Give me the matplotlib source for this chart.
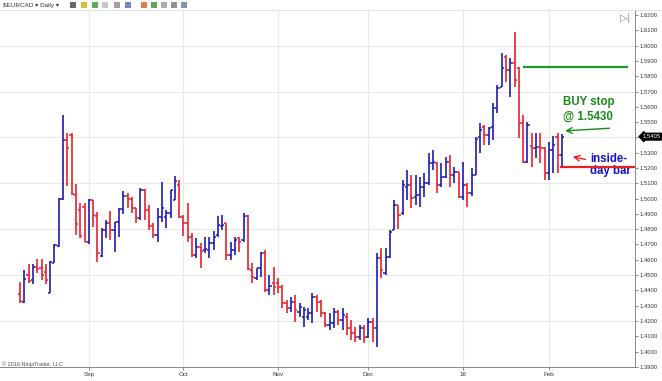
import numpy as np
import matplotlib
matplotlib.use("Agg")
import matplotlib.pyplot as plt
import matplotlib.transforms as mtransforms
from matplotlib.patches import Rectangle

# EURCAD daily bars, Aug 10 2015 .. Feb 4 2016 (one entry per trading day)
opens = [1.4375, 1.4322, 1.4500, 1.4468, 1.4555, 1.4544, 1.4520, 1.4385, 1.4576, 1.4690,
         1.4995, 1.5380, 1.5415, 1.5023, 1.4925, 1.4947, 1.4718, 1.4990, 1.4886, 1.4624,
         1.4794, 1.4842, 1.4794, 1.4849, 1.4929, 1.5017, 1.4999, 1.4936, 1.4871, 1.5056,
         1.4925, 1.4820, 1.4762, 1.4881, 1.4880, 1.4903, 1.4990, 1.5089, 1.4881, 1.4842,
         1.4751, 1.4631, 1.4682, 1.4664, 1.4664, 1.4708, 1.4762, 1.4821, 1.4838, 1.4631,
         1.4664, 1.4740, 1.4729, 1.4886, 1.4533, 1.4479, 1.4544, 1.4647, 1.4403, 1.4446,
         1.4446, 1.4424, 1.4315, 1.4283, 1.4326, 1.4260, 1.4228, 1.4225, 1.4250, 1.4359,
         1.4326, 1.4250, 1.4174, 1.4185, 1.4261, 1.4207, 1.4228, 1.4152, 1.4124, 1.4098,
         1.4152, 1.4098, 1.4196, 1.4152, 1.4609, 1.4511, 1.4616, 1.4794, 1.4958, 1.4903,
         1.5075, 1.5089, 1.5012, 1.5023, 1.5078, 1.5099, 1.5230, 1.5230, 1.5089, 1.5143,
         1.5241, 1.5154, 1.5176, 1.5012, 1.5089, 1.5034, 1.5154, 1.5404, 1.5470, 1.5415,
         1.5470, 1.5590, 1.5731, 1.5927, 1.5840, 1.5884, 1.5851, 1.5492, 1.5241, 1.5345,
         1.5330, 1.5339, 1.5328, 1.5165, 1.5317, 1.5404, 1.5285]
highs = [1.4455, 1.4533, 1.4572, 1.4570, 1.4607, 1.4607, 1.4570, 1.4592, 1.4703, 1.5001,
         1.5546, 1.5426, 1.5426, 1.5093, 1.4973, 1.4973, 1.4997, 1.4990, 1.4914, 1.4805,
         1.4860, 1.4918, 1.4849, 1.4940, 1.5051, 1.5034, 1.5012, 1.4940, 1.5067, 1.5062,
         1.4958, 1.4838, 1.4936, 1.5110, 1.4925, 1.5056, 1.5147, 1.5121, 1.4892, 1.4973,
         1.4777, 1.4740, 1.4708, 1.4751, 1.4751, 1.4788, 1.4886, 1.4893, 1.4838, 1.4719,
         1.4751, 1.4751, 1.4904, 1.4893, 1.4577, 1.4544, 1.4653, 1.4664, 1.4501, 1.4555,
         1.4479, 1.4435, 1.4337, 1.4359, 1.4370, 1.4315, 1.4294, 1.4283, 1.4381, 1.4370,
         1.4337, 1.4261, 1.4250, 1.4283, 1.4272, 1.4283, 1.4250, 1.4207, 1.4163, 1.4174,
         1.4174, 1.4217, 1.4217, 1.4645, 1.4675, 1.4675, 1.4794, 1.4990, 1.4958, 1.5121,
         1.5187, 1.5154, 1.5154, 1.5143, 1.5165, 1.5296, 1.5317, 1.5241, 1.5230, 1.5274,
         1.5285, 1.5208, 1.5176, 1.5241, 1.5099, 1.5200, 1.5400, 1.5492, 1.5481, 1.5470,
         1.5622, 1.5742, 1.5949, 1.5938, 1.5916, 1.6091, 1.5862, 1.5546, 1.5503, 1.5426,
         1.5426, 1.5426, 1.5340, 1.5370, 1.5410, 1.5426, 1.5420]
lows = [1.4315, 1.4315, 1.4446, 1.4441, 1.4511, 1.4468, 1.4440, 1.4380, 1.4576, 1.4685,
        1.4990, 1.5082, 1.5023, 1.4762, 1.4740, 1.4714, 1.4703, 1.4816, 1.4587, 1.4620,
        1.4740, 1.4729, 1.4653, 1.4751, 1.4899, 1.4936, 1.4908, 1.4838, 1.4860, 1.4860,
        1.4794, 1.4744, 1.4718, 1.4849, 1.4805, 1.4871, 1.4990, 1.4871, 1.4755, 1.4718,
        1.4620, 1.4609, 1.4544, 1.4642, 1.4610, 1.4664, 1.4751, 1.4795, 1.4599, 1.4599,
        1.4631, 1.4653, 1.4719, 1.4533, 1.4446, 1.4468, 1.4490, 1.4392, 1.4370, 1.4370,
        1.4381, 1.4283, 1.4250, 1.4261, 1.4196, 1.4228, 1.4163, 1.4207, 1.4185, 1.4261,
        1.4228, 1.4163, 1.4141, 1.4152, 1.4174, 1.4141, 1.4109, 1.4076, 1.4065, 1.4076,
        1.4054, 1.4087, 1.4065, 1.4032, 1.4478, 1.4500, 1.4609, 1.4794, 1.4799, 1.4892,
        1.4990, 1.4936, 1.4958, 1.4947, 1.5012, 1.5089, 1.5187, 1.5034, 1.5078, 1.5132,
        1.5078, 1.5099, 1.5001, 1.4990, 1.4947, 1.5020, 1.5154, 1.5296, 1.5350, 1.5350,
        1.5383, 1.5557, 1.5731, 1.5764, 1.5666, 1.5731, 1.5394, 1.5230, 1.5230, 1.5208,
        1.5263, 1.5230, 1.5121, 1.5120, 1.5165, 1.5165, 1.5208]
closes = [1.4330, 1.4472, 1.4460, 1.4555, 1.4537, 1.4500, 1.4470, 1.4587, 1.4696, 1.4995,
          1.5380, 1.5330, 1.5027, 1.4831, 1.4755, 1.4718, 1.4990, 1.4892, 1.4642, 1.4794,
          1.4842, 1.4794, 1.4844, 1.4929, 1.5017, 1.4999, 1.4936, 1.4871, 1.5056, 1.4925,
          1.4820, 1.4762, 1.4881, 1.4936, 1.4903, 1.5056, 1.5115, 1.4881, 1.4838, 1.4751,
          1.4631, 1.4685, 1.4655, 1.4668, 1.4708, 1.4751, 1.4827, 1.4827, 1.4631, 1.4664,
          1.4729, 1.4715, 1.4886, 1.4540, 1.4490, 1.4544, 1.4647, 1.4403, 1.4430, 1.4424,
          1.4424, 1.4315, 1.4283, 1.4326, 1.4272, 1.4290, 1.4272, 1.4250, 1.4359, 1.4326,
          1.4250, 1.4174, 1.4185, 1.4261, 1.4207, 1.4240, 1.4152, 1.4119, 1.4098, 1.4152,
          1.4098, 1.4196, 1.4152, 1.4610, 1.4533, 1.4616, 1.4784, 1.4958, 1.4892, 1.5089,
          1.5090, 1.5001, 1.5023, 1.5078, 1.5099, 1.5230, 1.5240, 1.5089, 1.5143, 1.5241,
          1.5154, 1.5176, 1.5012, 1.5089, 1.5034, 1.5154, 1.5387, 1.5448, 1.5415, 1.5459,
          1.5590, 1.5720, 1.5851, 1.5840, 1.5884, 1.5775, 1.5492, 1.5241, 1.5481, 1.5330,
          1.5339, 1.5328, 1.5165, 1.5317, 1.5350, 1.5285, 1.5405]

month_labels = ["Sep", "Oct", "Nov", "Dec", "16", "Feb"]
month_idx = [16, 38, 60, 81, 103, 123]   # first trading day of each month
grid_levels = [1.42, 1.45, 1.48, 1.51, 1.54, 1.57, 1.60]
target_level = 1.5862   # green line
stop_level = 1.5207     # red line under inside bar

o = np.array(opens); h = np.array(highs); l = np.array(lows); c = np.array(closes)
x = np.arange(len(c))
BLUE = "#1c1cb4"
RED = "#e8202a"
GREEN = "#1a8a1a"
cols = np.where(c >= o, BLUE, RED)
FAM = ["Liberation Sans", "DejaVu Sans"]

fig = plt.figure(figsize=(6.62, 3.81), dpi=100)
ax = fig.add_axes([0, 1 - 367 / 381, 635 / 662, 357 / 381])
ax.set_xlim(-4.65, 143.0)
ax.set_ylim(1.3899, 1.6233)

# grid
for g in grid_levels:
    ax.axhline(g, color="#e8e8e8", lw=0.8, zorder=0)
for m in month_idx:
    ax.axvline(m, color="#e8e8e8", lw=0.8, zorder=0)

# OHLC bars
ax.vlines(x, l, h, colors=cols, lw=1.2, zorder=3)
ax.hlines(o, x - 0.5, x, colors=cols, lw=1.1, zorder=3)
ax.hlines(c, x, x + 0.5, colors=cols, lw=1.1, zorder=3)

# drawn levels
ax.hlines(target_level, 117, 141.4, colors="#1f9a2a", lw=1.6, zorder=4)
ax.hlines(stop_level, x[-1] - 0.4, 143.0, colors=RED, lw=1.6, zorder=4)

# annotations
ax.text(126.2, 1.5631, "BUY stop", color=GREEN, fontsize=8.3, fontweight="bold",
        family=FAM, va="center", ha="left")
ax.text(126.2, 1.5533, "@ 1.5430", color=GREEN, fontsize=8.3, fontweight="bold",
        family=FAM, va="center", ha="left")
ax.annotate("", xy=(x[-1] + 0.1, h[-1] + 0.0022), xytext=(137.7, 1.5461),
            arrowprops=dict(arrowstyle="->", color=GREEN, lw=1.0))
ax.text(132.6, 1.5262, "inside-", color="#1515c8", fontsize=8.3, fontweight="bold",
        family=FAM, va="center", ha="left")
ax.text(132.6, 1.5183, "day bar", color="#1515c8", fontsize=8.3, fontweight="bold",
        family=FAM, va="center", ha="left")
ax.annotate("", xy=(127.9, 1.5278), xytext=(132.1, 1.5252),
            arrowprops=dict(arrowstyle="->", color=RED, lw=1.0))

# axes styling
for s in ["left", "top"]:
    ax.spines[s].set_visible(False)
ax.spines["right"].set_color("#888888")
ax.spines["bottom"].set_color("#888888")
ax.spines["right"].set_linewidth(0.7)
ax.spines["bottom"].set_linewidth(0.7)
ax.yaxis.tick_right()
yt = np.round(np.arange(1.39, 1.6201, 0.01), 2)
ax.set_yticks(yt)
# the 1.5400 label sits under the last-price tag
ax.set_yticklabels(["" if abs(v - 1.54) < 1e-6 else "%.4f" % v for v in yt])
ax.tick_params(axis="y", labelsize=4.2, colors="#555555", length=2, width=0.5, pad=1.5)
ax.set_xticks(month_idx)
ax.set_xticklabels(month_labels)
ax.tick_params(axis="x", labelsize=4.5, colors="#555555", length=2, width=0.5, pad=1.5)
for lab in ax.get_xticklabels() + ax.get_yticklabels():
    lab.set_family(FAM)
    lab.set_color("#333333")

# last price tag
ytr = mtransforms.blended_transform_factory(ax.transAxes, ax.transData)
ax.text(1.012, c[-1], "%.4f" % c[-1], transform=ytr, fontsize=4.2, color="white",
        family=FAM, va="center", ha="left", zorder=10,
        bbox=dict(boxstyle="larrow,pad=0.15", fc="black", ec="black"))

# toolbar and decorations
fig.text(3 / 662, 1 - 5 / 381, "$EURCAD \u25be Daily \u25be", fontsize=4.6, color="#333333",
         family=FAM, va="center")
icon_cols = ["#444444", "#c8b400", "#2a9a3a", "#bbbbbb", "#888888", "#5566aa",
             "#d06020", "#3a8a3a", "#999999", "#777777", "#6677aa"]
icon_x = [70, 81, 92, 102, 114, 125, 141, 151, 161, 171, 181]
for ix, ic in zip(icon_x, icon_cols):
    fig.patches.append(Rectangle((ix / 662, 1 - 8 / 381), 6 / 662, 6 / 381,
                                 transform=fig.transFigure, fc=ic, ec="none", alpha=0.8))
fig.add_artist(plt.Line2D([0, 1], [1 - 9.5 / 381, 1 - 9.5 / 381], transform=fig.transFigure,
                          color="#dddddd", lw=0.6))
fig.text(625 / 662, 1 - 18 / 381, "\u25b7|", fontsize=7, color="#888888", ha="center",
         va="center", family=FAM)
fig.text(2 / 662, 1 - 364 / 381, "\u00a9 2016 NinjaTrader, LLC", fontsize=4, color="#555555",
         family=FAM, va="center")

fig.savefig("out.png", dpi=100)
